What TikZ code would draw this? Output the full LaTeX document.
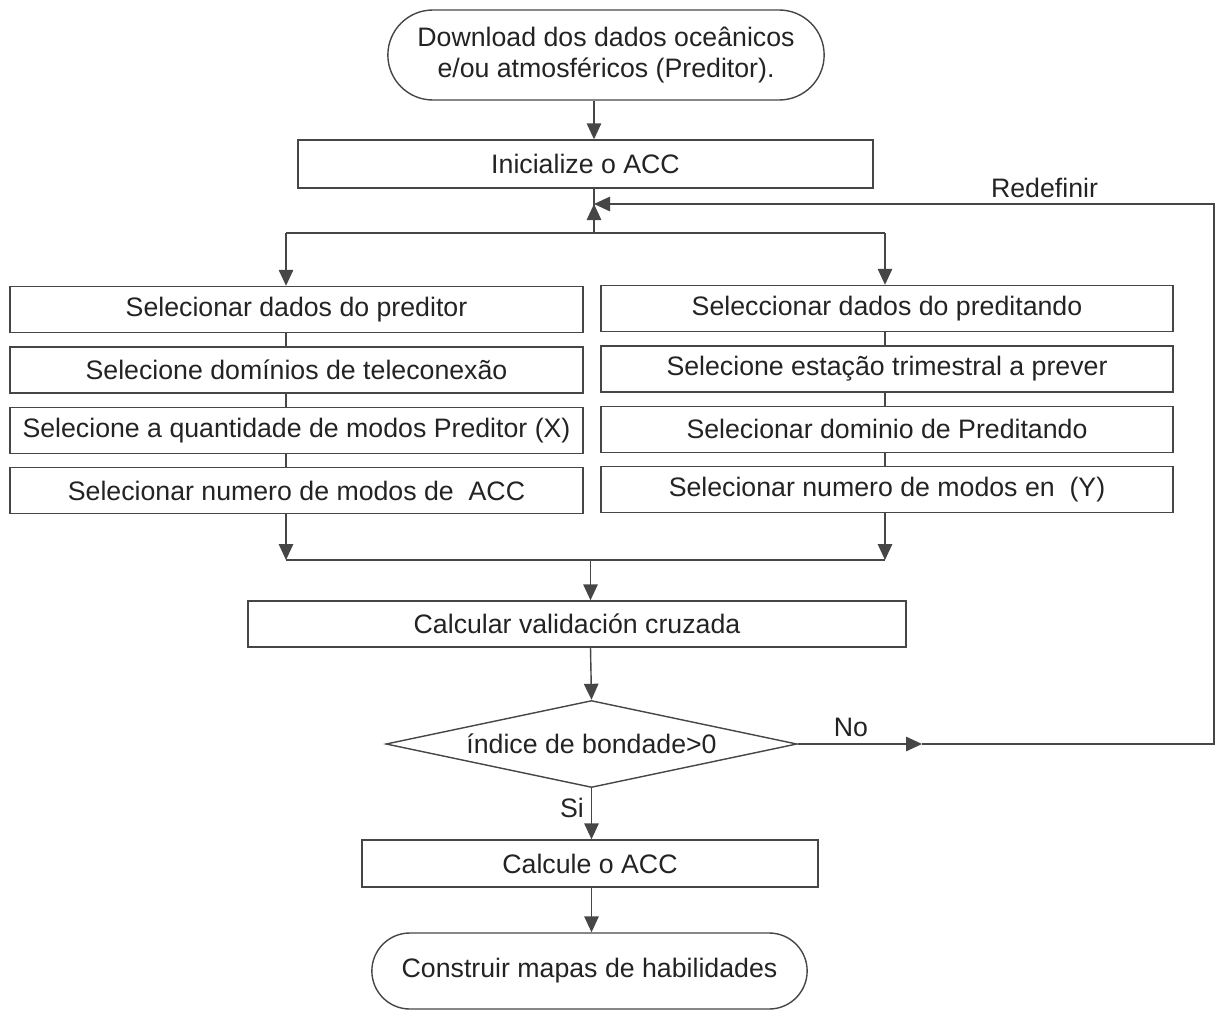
\documentclass[tikz,border=0pt]{standalone}
\usepackage{fontspec}
\setmainfont{Liberation Sans}
\usetikzlibrary{arrows.meta, positioning, shapes.geometric, shapes.misc}
\definecolor{linegray}{RGB}{70,70,70}
\definecolor{textgray}{RGB}{35,35,35}

\begin{document}
\begin{tikzpicture}[
    node distance=0.26cm,
    every node/.style={text=textgray, font=\fontsize{15.2}{18}\selectfont},
    block/.style={rectangle, draw=linegray, line width=0.8pt, minimum height=0.92cm,
                  inner sep=2pt, align=center},
    term/.style={rounded rectangle, draw=linegray, line width=0.8pt, align=center},
    decide/.style={diamond, draw=linegray, line width=0.8pt, inner sep=0pt, aspect=4.72,
                   minimum width=8.22cm, minimum height=1.74cm},
    line/.style={draw=linegray, line width=0.8pt},
    arrow/.style={line, -{Triangle[length=3.2mm, width=2.9mm]}}
]
    \useasboundingbox (0,0) rectangle (24.34,-20.18);
    % main column
    \node[term, minimum width=8.96cm, minimum height=1.8cm] (start) at (12.12,-1.1)
        {Download dos dados oceânicos\\ e/ou atmosféricos (Preditor).};
    \node[block, minimum width=11.5cm, minimum height=0.96cm] (init) at (11.71,-3.28) {Inicialize o ACC};
    \coordinate (join) at (11.88,-4.08);
    \coordinate (split) at (11.88,-4.66);
    \coordinate (lx) at (5.72,-4.66);
    \coordinate (rx) at (17.7,-4.66);
    % left branch (predictor)
    \node[block, minimum width=11.46cm] (lsel1) at (5.93,-6.19) {Selecionar dados do preditor};
    \node[block, minimum width=11.46cm, below=of lsel1] (lsel2) {Selecione domínios de teleconexão};
    \node[block, minimum width=11.46cm, below=of lsel2] (lsel3) {Selecione a quantidade de modos Preditor (X)};
    \node[block, minimum width=11.46cm, below=of lsel3] (lsel4) {Selecionar numero de modos de\ \ ACC};
    % right branch (predictand)
    \node[block, minimum width=11.44cm] (rsel1) at (17.74,-6.17) {Seleccionar dados do preditando};
    \node[block, minimum width=11.44cm, below=of rsel1] (rsel2) {Selecione estação trimestral a prever};
    \node[block, minimum width=11.44cm, below=of rsel2] (rsel3) {Selecionar dominio de Preditando};
    \node[block, minimum width=11.44cm, below=of rsel3] (rsel4) {Selecionar numero de modos en\ \ (Y)};
    \coordinate (merge) at (11.81,-11.2);
    \node[block, minimum width=13.16cm] (cross) at (11.54,-12.48) {Calcular validación cruzada};
    \node[decide] (dec) at (11.83,-14.88) {índice de bondade>0};
    \coordinate (noarr) at (18.44,-14.88);
    \coordinate (back) at (24.28,-14.88);
    \node[block, minimum width=9.12cm, minimum height=0.94cm] (acc) at (11.8,-17.27) {Calcule o ACC};
    \node[term, minimum width=8.94cm, minimum height=1.52cm] (stop) at (11.79,-19.42)
        {Construir mapas de habilidades};
    % labels
    \node (redef) at (20.89,-3.76) {Redefinir};
    \node (nolab) at (17.02,-14.54) {No};
    \node (silab) at (11.44,-16.16) {Si};
    % connectors
    \draw[arrow] (start.south -| join) -- (init.north -| join);
    \draw[line] (init.south -| join) -- (split);
    \draw[arrow] (split) -- (join);
    \draw[line] (lx) -- (rx);
    \draw[arrow] (lx) -- (lsel1.north -| lx);
    \draw[arrow] (rx) -- (rsel1.north -| rx);
    \draw[line] (lsel1.south -| lx) -- (lsel2.north -| lx);
    \draw[line] (lsel2.south -| lx) -- (lsel3.north -| lx);
    \draw[line] (lsel3.south -| lx) -- (lsel4.north -| lx);
    \draw[line] (rsel1.south -| rx) -- (rsel2.north -| rx);
    \draw[line] (rsel2.south -| rx) -- (rsel3.north -| rx);
    \draw[line] (rsel3.south -| rx) -- (rsel4.north -| rx);
    \draw[arrow] (lsel4.south -| lx) -- (merge -| lx);
    \draw[arrow] (rsel4.south -| rx) -- (merge -| rx);
    \draw[line] (merge -| lx) -- (merge -| rx);
    \draw[arrow] (merge) -- (cross.north -| merge);
    \draw[arrow] (cross.south -| merge) -- (dec.north);
    \draw[arrow] (dec.east) -- (noarr);
    \draw[arrow] (noarr) -- (back) |- (join);
    \draw[arrow] (dec.south) -- (acc.north -| dec.south);
    \draw[arrow] (acc.south -| dec.south) -- (stop.north -| dec.south);
\end{tikzpicture}
\end{document}
